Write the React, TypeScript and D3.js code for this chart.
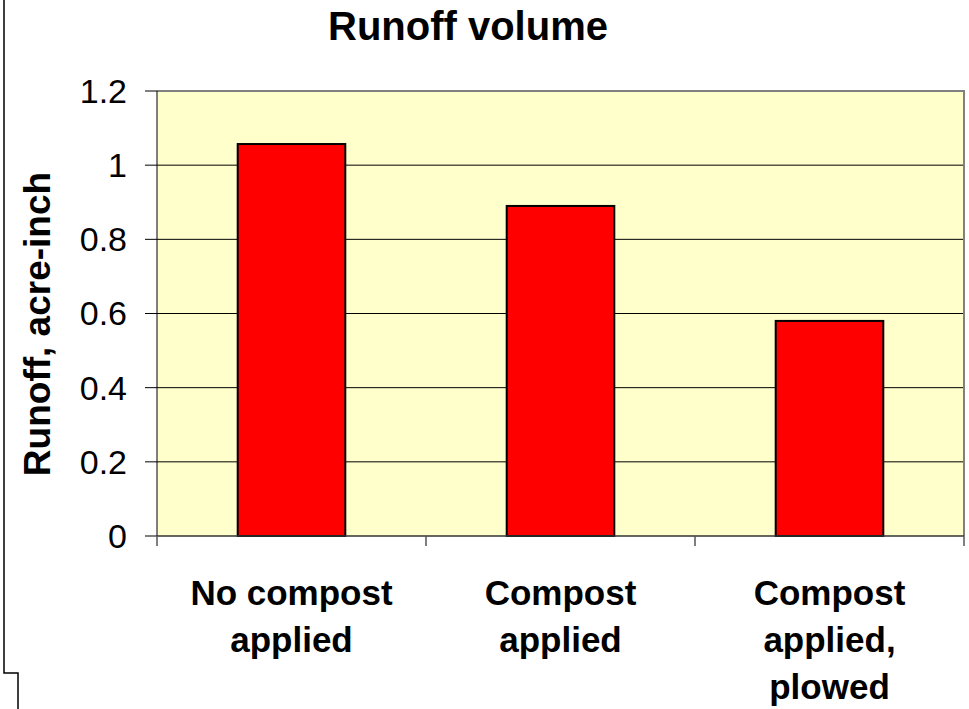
import React from 'react';
import * as d3 from 'd3';

const categories = ['No compost applied', 'Compost applied', 'Compost applied, plowed'];
const categoryLines = [['No compost', 'applied'], ['Compost', 'applied'], ['Compost', 'applied,', 'plowed']];
const runoff = [1.057, 0.89, 0.58];
const yTicks = [0, 0.2, 0.4, 0.6, 0.8, 1, 1.2];
const yTickLabels = ['0', '0.2', '0.4', '0.6', '0.8', '1', '1.2'];

const FONT = '"Liberation Sans", Arial, sans-serif';

function App() {
  const width = 969;
  const height = 709;
  const plot = { left: 157, right: 964, top: 91, bottom: 536 };

  const x = d3.scaleBand().domain(categories).range([plot.left, plot.right]).paddingInner(0.6).paddingOuter(0.3);
  const xCells = d3.scaleBand().domain(categories).range([plot.left, plot.right]);
  const y = d3.scaleLinear().domain([0, 1.2]).range([plot.bottom, plot.top]);

  return (
    <svg width={width} height={height} style={{ position: 'absolute', left: 0, top: 0 }}>
      <rect x={0} y={0} width={width} height={height} fill="#fff" />
      {/* outer frame remnants */}
      <path d="M4,0 V673 H18 V709" fill="none" stroke="#000" strokeWidth={1.5} />

      <text x={468} y={40} textAnchor="middle" fontFamily={FONT} fontWeight="bold" fontSize={40}>
        Runoff volume
      </text>

      <rect x={plot.left} y={plot.top} width={plot.right - plot.left} height={plot.bottom - plot.top} fill="#FFFFCC" />

      {/* gridlines */}
      {yTicks.slice(1, -1).map(t => (
        <line key={t} x1={plot.left} x2={plot.right} y1={y(t)} y2={y(t)} stroke="#000" strokeWidth={1} />
      ))}

      {/* frame top/right */}
      <path d={`M${plot.left},${plot.top} H${plot.right} V${plot.bottom}`} fill="none" stroke="#808080" strokeWidth={2} />

      {/* bars */}
      {categories.map((c, i) => (
        <rect key={c} x={x(c)} y={y(runoff[i])} width={x.bandwidth()} height={y(0) - y(runoff[i])}
          fill="#FF0000" stroke="#000" strokeWidth={2} />
      ))}

      {/* y axis */}
      <line x1={plot.left} x2={plot.left} y1={plot.top} y2={plot.bottom} stroke="#000" strokeWidth={1} />
      {yTicks.map((t, i) => (
        <g key={t}>
          <line x1={plot.left - 12} x2={plot.left} y1={y(t)} y2={y(t)} stroke="#000" strokeWidth={1} />
          <text x={127} y={y(t)} dy="0.35em" textAnchor="end" fontFamily={FONT} fontSize={34}>
            {yTickLabels[i]}
          </text>
        </g>
      ))}

      {/* x axis */}
      <line x1={plot.left} x2={plot.right} y1={plot.bottom} y2={plot.bottom} stroke="#333" strokeWidth={1.5} />
      {[plot.left, ...categories.map(c => (xCells(c) as number) + xCells.bandwidth())].map(v => (
        <line key={v} x1={v} x2={v} y1={plot.bottom} y2={plot.bottom + 10} stroke="#555" strokeWidth={1.5} />
      ))}
      {categories.map((c, i) => (
        <text key={c} textAnchor="middle" fontFamily={FONT} fontWeight="bold" fontSize={35}>
          {categoryLines[i].map((ln, j) => (
            <tspan key={j} x={(x(c) as number) + x.bandwidth() / 2} y={605 + j * 47}>{ln}</tspan>
          ))}
        </text>
      ))}

      <text transform={`translate(50,324) rotate(-90)`} textAnchor="middle" fontFamily={FONT} fontWeight="bold" fontSize={37}>
        Runoff, acre-inch
      </text>
    </svg>
  );
}

export default App;
